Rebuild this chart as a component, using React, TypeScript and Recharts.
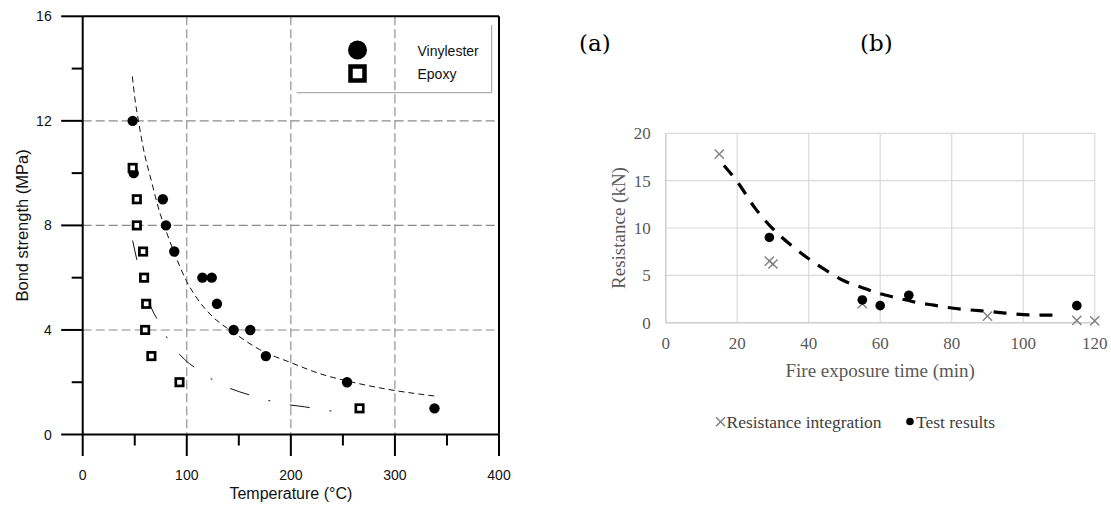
import React from "react";
import {
  ComposedChart,
  Line,
  Scatter,
  XAxis,
  YAxis,
  CartesianGrid,
  ReferenceLine,
  Legend,
  Label,
} from "recharts";

// ---------- Chart (a): bond strength vs temperature ----------
const tempVinyl = [48, 49, 77, 80, 88, 115, 124, 129, 145, 161, 176, 254, 338];
const bondVinyl = [12, 10, 9, 8, 7, 6, 6, 5, 4, 4, 3, 2, 1];
const tempEpoxy = [48, 52, 52, 58, 59, 61, 60, 66, 93, 266];
const bondEpoxy = [10.2, 9, 8, 7, 6, 5, 4, 3, 2, 1];
const vinylFitT = [47.7, 50, 54, 58, 66, 74, 80, 88, 100, 110, 125, 145, 170, 200, 230, 254, 290, 338.5];
const vinylFitB = [13.7, 12.9, 11.9, 11.0, 9.7, 8.5, 7.8, 6.95, 5.85, 5.2, 4.5, 3.9, 3.25, 2.75, 2.3, 2.05, 1.75, 1.47];
const epoxyFitT = [48, 52, 58, 66, 73, 83, 98, 113, 131, 151, 170, 191, 213, 233, 254];
const epoxyFitB = [7.42, 6.69, 5.75, 4.84, 4.31, 3.57, 2.87, 2.42, 1.95, 1.63, 1.4, 1.18, 1.06, 0.93, 0.83];
const tempTicks = [0, 50, 100, 150, 200, 250, 300, 350, 400];
const bondTicks = [0, 2, 4, 6, 8, 10, 12, 14, 16];
const gridTemp = [100, 200, 300];
const gridBond = [4, 8, 12];

// ---------- Chart (b): resistance vs fire exposure time ----------
const timeInteg = [15, 29, 30, 55, 90, 115, 120];
const resInteg = [17.8, 6.5, 6.2, 2.0, 0.7, 0.25, 0.2];
const timeTest = [29, 55, 60, 68, 115];
const resTest = [9.0, 2.4, 1.8, 2.9, 1.8];
const trendT = [16.3, 20, 25, 30, 35, 40, 45, 50, 55, 60, 65, 70, 75, 80, 85, 90, 95, 100, 105, 110];
const trendR = [16.6, 14.9, 12.1, 9.9, 8.2, 6.75, 5.5, 4.4, 3.7, 3.05, 2.6, 2.15, 1.85, 1.55, 1.35, 1.2, 1.02, 0.85, 0.81, 0.8];
const timeTicks = [0, 20, 40, 60, 80, 100, 120];
const resTicks = [0, 5, 10, 15, 20];

const zip = (xs: number[], ys: number[]) => xs.map((x, i) => ({ x, y: ys[i] }));

const vinylPts = zip(tempVinyl, bondVinyl);
const epoxyPts = zip(tempEpoxy, bondEpoxy);
const vinylFit = zip(vinylFitT, vinylFitB);
const epoxyFit = zip(epoxyFitT, epoxyFitB);
const integPts = zip(timeInteg, resInteg);
const testPts = zip(timeTest, resTest);
const trend = zip(trendT, trendR);

const SANS = "'Liberation Sans', Arial, sans-serif";
const SERIF = "'Liberation Serif', 'Times New Roman', serif";

const renderYTickA = (props: any) => {
  const { x, y, payload } = props;
  const v = payload.value;
  const major = v % 4 === 0;
  const len = major ? 21.5 : 11;
  return (
    <g>
      <path d={`M${x},${y}H${x - len}`} stroke="#000" strokeWidth={2} fill="none" />
      {major && (
        <text x={x - 31} y={y} textAnchor="end" dominantBaseline="central" fontSize={14} fontFamily={SANS} fill="#111">
          {v}
        </text>
      )}
    </g>
  );
};

const renderXTickA = (props: any) => {
  const { x, y, payload } = props;
  const v = payload.value;
  const major = v % 100 === 0;
  const len = major ? 21.5 : 11;
  return (
    <g>
      <path d={`M${x},${y}V${y + len}`} stroke="#000" strokeWidth={2} fill="none" />
      {major && (
        <text x={x} y={y + 40} textAnchor="middle" dominantBaseline="central" fontSize={14} fontFamily={SANS} fill="#111">
          {v}
        </text>
      )}
    </g>
  );
};

const CircleShape = (props: any) => <circle cx={props.cx} cy={props.cy} r={5.2} fill="#000" />;
const SquareShape = (props: any) => (
  <rect x={props.cx - 3.7} y={props.cy - 3.7} width={7.4} height={7.4} fill="#fff" stroke="#000" strokeWidth={2.7} />
);
const CrossShape = (props: any) => {
  const { cx, cy } = props;
  const s = 4.6;
  return (
    <g stroke="#7f7f7f" strokeWidth={1.4}>
      <line x1={cx - s} y1={cy - s} x2={cx + s} y2={cy + s} />
      <line x1={cx - s} y1={cy + s} x2={cx + s} y2={cy - s} />
    </g>
  );
};
const DotShape = (props: any) => <circle cx={props.cx} cy={props.cy} r={4.8} fill="#000" />;

const LegendA = () => (
  <svg width={220} height={90} style={{ display: "block" }}>
    <g transform="translate(-280,-10)">
      <line x1={491.7} x2={491.7} y1={25} y2={92.7} stroke="#9a9a9a" strokeWidth={1} />
      <line x1={296.7} x2={491.7} y1={92.7} y2={92.7} stroke="#9a9a9a" strokeWidth={1} />
      <circle cx={357.5} cy={50} r={9.5} fill="#000" />
      <rect x={350.5} y={66.5} width={14} height={14} fill="#fff" stroke="#000" strokeWidth={4.5} />
      <text x={417.5} y={50.7} dominantBaseline="central" fontSize={14} fontFamily={SANS} fill="#111">Vinylester</text>
      <text x={417.5} y={73.5} dominantBaseline="central" fontSize={14} fontFamily={SANS} fill="#111">Epoxy</text>
    </g>
  </svg>
);

const LegendB = () => (
  <svg width={531} height={30} style={{ display: "block" }}>
    <g transform="translate(0,-310)">
      <g stroke="#7f7f7f" strokeWidth={1.4}>
        <line x1={136} y1={317.2} x2={145} y2={326.2} />
        <line x1={136} y1={326.2} x2={145} y2={317.2} />
      </g>
      <text x={146.5} y={321.7} dominantBaseline="central" fontSize={17.5} fontFamily={SERIF} fill="#404040">Resistance integration</text>
      <circle cx={330} cy={321.5} r={3.8} fill="#000" />
      <text x={336} y={321.7} dominantBaseline="central" fontSize={17.5} fontFamily={SERIF} fill="#404040">Test results</text>
    </g>
  </svg>
);

export default function App() {
  return (
    <div style={{ position: "absolute", left: 0, top: 0, width: 1111, height: 505, background: "#fff", overflow: "hidden" }}>
      {/* Chart (a) */}
      <div style={{ position: "absolute", left: 0, top: 0 }}>
        <ComposedChart width={520} height={505} margin={{ top: 16.3, right: 21, bottom: 30.5, left: 22.7 }}>
          <CartesianGrid
            horizontalValues={gridBond}
            verticalValues={gridTemp}
            stroke="#8a8a8a"
            strokeDasharray="9 4"
            strokeWidth={1.1}
          />
          <XAxis
            type="number"
            dataKey="x"
            domain={[0, 400]}
            ticks={tempTicks}
            interval={0}
            height={40}
            tickSize={0}
            tickMargin={0}
            tickLine={false}
            axisLine={{ stroke: "#000", strokeWidth: 2 }}
            tick={renderXTickA}
          >
            <Label
              content={(p: any) => {
                const vb = p.viewBox;
                return (
                  <text x={vb.x + vb.width / 2} y={vb.y + 58.5} textAnchor="middle" dominantBaseline="central" fontSize={16} fontFamily={SANS} fill="#111">
                    Temperature (°C)
                  </text>
                );
              }}
            />
          </XAxis>
          <YAxis
            type="number"
            domain={[0, 16]}
            ticks={bondTicks}
            interval={0}
            width={60}
            tickSize={0}
            tickMargin={0}
            tickLine={false}
            axisLine={{ stroke: "#000", strokeWidth: 2 }}
            tick={renderYTickA}
          >
            <Label
              content={(p: any) => {
                const vb = p.viewBox;
                const cx = vb.x - 1;
                const cy = vb.y + vb.height / 2;
                return (
                  <text x={cx} y={cy} transform={`rotate(-90 ${cx} ${cy})`} textAnchor="middle" dominantBaseline="central" fontSize={16.5} fontFamily={SANS} fill="#111">
                    Bond strength (MPa)
                  </text>
                );
              }}
            />
          </YAxis>
          <ReferenceLine y={16} stroke="#000" strokeWidth={2} />
          <ReferenceLine x={400} stroke="#000" strokeWidth={2} />
          <Line data={vinylFit} dataKey="y" type="monotone" stroke="#111" strokeWidth={1} strokeDasharray="6 4" dot={false} activeDot={false} isAnimationActive={false} legendType="none" />
          <Line data={epoxyFit} dataKey="y" type="monotone" stroke="#111" strokeWidth={1} strokeDasharray="20 20 2 20" dot={false} activeDot={false} isAnimationActive={false} legendType="none" />
          <Scatter name="Vinylester" data={vinylPts} dataKey="y" shape={<CircleShape />} isAnimationActive={false} />
          <Scatter name="Epoxy" data={epoxyPts} dataKey="y" shape={<SquareShape />} isAnimationActive={false} />
          <Legend
            layout="vertical"
            align="center"
            verticalAlign="middle"
            content={() => <LegendA />}
            wrapperStyle={{ position: "absolute", left: 280, top: 10, width: 220, height: 90 }}
          />
        </ComposedChart>
      </div>

      {/* Panel labels */}
      <div style={{ position: "absolute", left: 579, top: 29, fontFamily: "'DejaVu Serif', serif", fontSize: 23, lineHeight: "28px", color: "#000" }}>(a)</div>
      <div style={{ position: "absolute", left: 860, top: 29, fontFamily: "'DejaVu Serif', serif", fontSize: 23, lineHeight: "28px", color: "#000" }}>(b)</div>

      {/* Chart (b) */}
      <div style={{ position: "absolute", left: 580, top: 100 }}>
        <ComposedChart width={531} height={405} margin={{ top: 33.3, right: 16.3, bottom: 142.3, left: 35.7 }}>
          <CartesianGrid stroke="#d9d9d9" strokeWidth={1.2} />
          <XAxis
            type="number"
            dataKey="x"
            domain={[0, 120]}
            ticks={timeTicks}
            interval={0}
            height={40}
            tickLine={false}
            tickSize={0}
            tickMargin={14}
            axisLine={{ stroke: "#cfcfcf", strokeWidth: 1.5 }}
            tick={{ fill: "#595959", fontSize: 17, fontFamily: SERIF }}
          >
            <Label
              content={(p: any) => {
                const vb = p.viewBox;
                return (
                  <text x={vb.x + vb.width / 2} y={vb.y + 47.5} textAnchor="middle" dominantBaseline="central" fontSize={19} fontFamily={SERIF} fill="#595959">
                    Fire exposure time (min)
                  </text>
                );
              }}
            />
          </XAxis>
          <YAxis
            type="number"
            domain={[0, 20]}
            ticks={resTicks}
            interval={0}
            width={50}
            tickLine={false}
            tickSize={0}
            tickMargin={15}
            axisLine={{ stroke: "#cfcfcf", strokeWidth: 1.5 }}
            tick={{ fill: "#595959", fontSize: 17, fontFamily: SERIF }}
          >
            <Label
              content={(p: any) => {
                const vb = p.viewBox;
                const cx = vb.x + 2.6;
                const cy = vb.y + vb.height / 2;
                return (
                  <text x={cx} y={cy} transform={`rotate(-90 ${cx} ${cy})`} textAnchor="middle" dominantBaseline="central" fontSize={19} fontFamily={SERIF} fill="#595959">
                    Resistance (kN)
                  </text>
                );
              }}
            />
          </YAxis>
          <Line data={trend} dataKey="y" type="monotone" stroke="#000" strokeWidth={3.2} strokeDasharray="13 10" dot={false} activeDot={false} isAnimationActive={false} legendType="none" />
          <Scatter name="Resistance integration" data={integPts} dataKey="y" shape={<CrossShape />} isAnimationActive={false} />
          <Scatter name="Test results" data={testPts} dataKey="y" shape={<DotShape />} isAnimationActive={false} />
          <Legend
            layout="vertical"
            align="center"
            verticalAlign="middle"
            content={() => <LegendB />}
            wrapperStyle={{ position: "absolute", left: 0, top: 310, width: 531, height: 30 }}
          />
        </ComposedChart>
      </div>
    </div>
  );
}
